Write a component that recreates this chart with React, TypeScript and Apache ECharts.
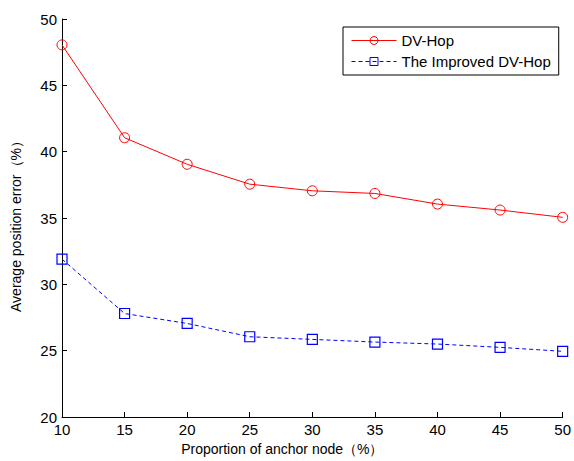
import React, { useEffect, useRef } from "react";
import * as echarts from "echarts";

// Proportion of anchor nodes (%)
const anchorProportion = [10, 15, 20, 25, 30, 35, 40, 45, 50];
// Average positioning error (%) per algorithm
const dvHopError = [48.05, 41.05, 39.05, 37.55, 37.05, 36.85, 36.05, 35.6, 35.05];
const improvedDvHopError = [31.9, 27.8, 27.05, 26.05, 25.85, 25.65, 25.5, 25.25, 24.95];

const seriesNames = ["DV-Hop", "The Improved DV-Hop"];
const xAxisTitle = "Proportion of anchor node（%）";
const yAxisTitle = "Average position error（%）";

const FONT = "'Liberation Sans', Arial, sans-serif";

export default function App() {
  const ref = useRef<HTMLDivElement>(null);

  useEffect(() => {
    if (!ref.current) return;
    const chart = echarts.init(ref.current, undefined, { renderer: "svg" });
    const pair = (ys: number[]) => anchorProportion.map((x, i) => [x, ys[i]]);

    chart.setOption({
      animation: false,
      backgroundColor: "#ffffff",
      textStyle: { fontFamily: FONT },
      grid: { left: 62, top: 19, width: 506, height: 400, containLabel: false },
      legend: {
        orient: "vertical",
        left: 343,
        top: 27,
        width: 214,
        padding: [6, 8, 6, 8],
        itemGap: 6,
        itemWidth: 45,
        itemHeight: 10,
        borderColor: "#000",
        borderWidth: 1,
        backgroundColor: "#fff",
        lineStyle: { width: 1 },
        itemStyle: { borderWidth: 1 },
        textStyle: { fontFamily: FONT, fontSize: 15, color: "#000" },
        data: seriesNames,
      },
      xAxis: {
        type: "value",
        min: 10,
        max: 50,
        interval: 5,
        name: xAxisTitle,
        nameLocation: "middle",
        nameGap: 25,
        nameTextStyle: { fontFamily: FONT, fontSize: 14, color: "#000", padding: [0, 60, 0, 0] },
        axisLine: { lineStyle: { color: "#000", width: 1 } },
        axisTick: { inside: true, length: 5, lineStyle: { color: "#000" } },
        axisLabel: { fontFamily: FONT, fontSize: 15, color: "#000", margin: 5 },
        splitLine: { show: false },
      },
      yAxis: {
        type: "value",
        min: 20,
        max: 50,
        interval: 5,
        name: yAxisTitle,
        nameLocation: "middle",
        nameGap: 39,
        nameTextStyle: { fontFamily: FONT, fontSize: 14, color: "#000", padding: [0, 10, 0, 0] },
        axisLine: { show: true, lineStyle: { color: "#000", width: 1 } },
        axisTick: { show: true, inside: true, length: 5, lineStyle: { color: "#000" } },
        axisLabel: { fontFamily: FONT, fontSize: 15, color: "#000", margin: 5 },
        splitLine: { show: false },
      },
      series: [
        {
          name: seriesNames[0],
          type: "line",
          data: pair(dvHopError),
          symbol: "circle",
          symbolSize: 10,
          itemStyle: { color: "none", borderColor: "#ff0000", borderWidth: 1 },
          lineStyle: { color: "#ff0000", width: 1 },
        },
        {
          name: seriesNames[1],
          type: "line",
          data: pair(improvedDvHopError),
          symbol: "rect",
          symbolSize: 10,
          itemStyle: { color: "none", borderColor: "#0000ff", borderWidth: 1.2 },
          lineStyle: { color: "#0000ff", width: 1, type: [4, 3] },
        },
      ],
    });
    return () => chart.dispose();
  }, []);

  return <div ref={ref} style={{ width: 574, height: 461, position: "absolute", left: 0, top: 0 }} />;
}
